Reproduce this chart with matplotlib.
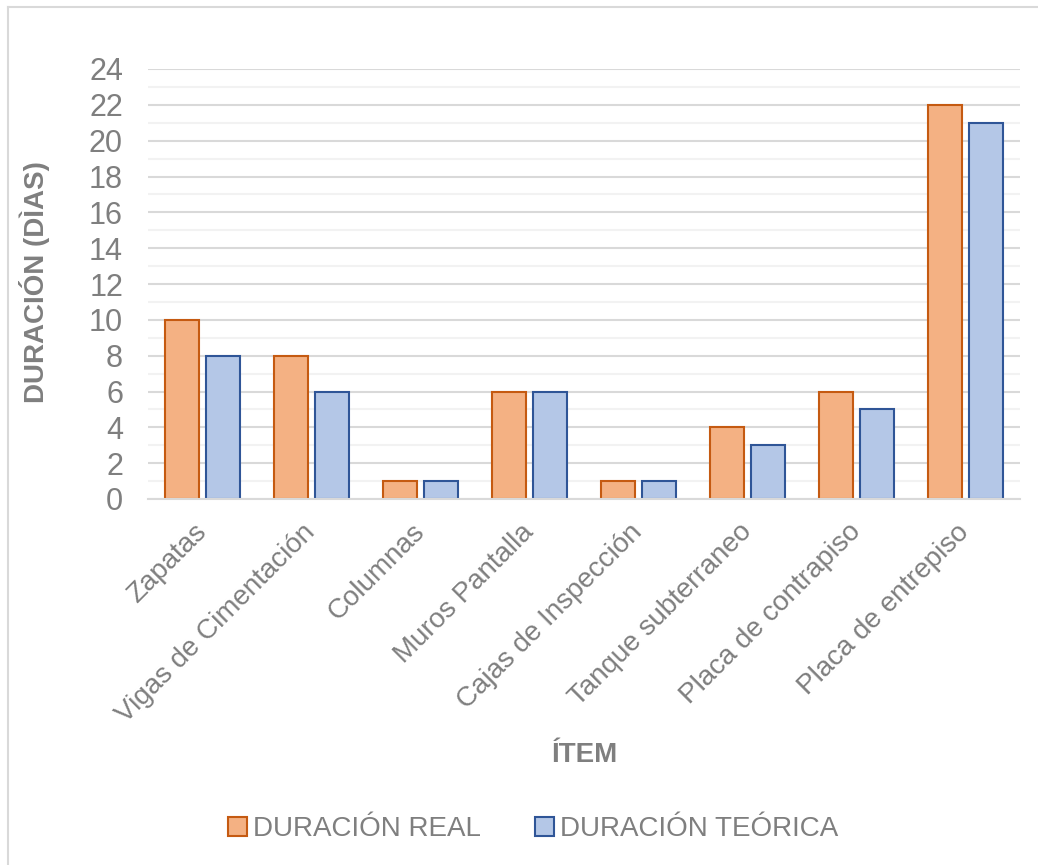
import matplotlib
import numpy as np

matplotlib.use("Agg")
import matplotlib.pyplot as plt  # noqa: E402
from matplotlib.lines import Line2D  # noqa: E402
from matplotlib.patches import Patch  # noqa: E402

plt.rcParams["font.family"] = ["Liberation Sans", "DejaVu Sans"]

items = ["Zapatas", "Vigas de Cimentación", "Columnas", "Muros Pantalla",
         "Cajas de Inspección", "Tanque subterraneo", "Placa de contrapiso", "Placa de entrepiso"]
dur_real = [10, 8, 1, 6, 1, 4, 6, 22]
dur_teorica = [8, 6, 1, 6, 1, 3, 5, 21]

GRAY = "#7F7F7F"
REAL_FILL, REAL_EDGE = "#F4B183", "#C55A11"
TEO_FILL, TEO_EDGE = "#B4C7E7", "#2F5597"

W, H = 1038, 865
fig = plt.figure(figsize=(W / 100, H / 100), dpi=100)
ax = fig.add_axes([148 / W, 1 - 499 / H, (1020 - 148) / W, (499 - 69) / H])

x = np.arange(len(items))
bw, off = 0.31, 0.19
ax.bar(x - off, dur_real, bw, color=REAL_FILL, edgecolor=REAL_EDGE, linewidth=1.5, zorder=3)
ax.bar(x + off, dur_teorica, bw, color=TEO_FILL, edgecolor=TEO_EDGE, linewidth=1.5, zorder=3)

ax.set_xlim(-0.5, len(items) - 0.5)
ax.set_ylim(0, 24)
ax.set_yticks(np.arange(0, 25, 2))
ax.set_yticks(np.arange(1, 24, 2), minor=True)
ax.grid(True, which="major", axis="y", color="#D9D9D9", lw=1.5, zorder=0)
ax.grid(True, which="minor", axis="y", color="#F2F2F2", lw=1.5, zorder=0)
for s in ["top", "right", "left"]:
    ax.spines[s].set_visible(False)
ax.spines["bottom"].set_color("#D9D9D9")
ax.spines["bottom"].set_linewidth(1.5)
ax.spines["bottom"].set_zorder(4)

ax.tick_params(axis="y", which="both", length=0, pad=18, labelsize=22, labelcolor=GRAY)
ax.tick_params(axis="x", length=0, pad=21, labelsize=20, labelcolor=GRAY)
ax.set_xticks(x)
ax.set_xticklabels(items, rotation=45, ha="right", va="center", rotation_mode="anchor")

fig.text(35 / W, 1 - 282 / H, "DURACIÓN (DÌAS)", rotation=90, fontsize=20, fontweight="bold",
         color=GRAY, ha="center", va="center")
fig.text(585 / W, 1 - 755 / H, "ÍTEM", fontsize=20, fontweight="bold", color=GRAY,
         ha="center", va="center")

handles = [Patch(facecolor=REAL_FILL, edgecolor=REAL_EDGE, linewidth=1.5),
           Patch(facecolor=TEO_FILL, edgecolor=TEO_EDGE, linewidth=1.5)]
leg = fig.legend(handles, ["DURACIÓN REAL", "DURACIÓN TEÓRICA"], ncol=2, frameon=False,
                 loc="center", bbox_to_anchor=(533 / W, 1 - 829 / H), fontsize=20,
                 handlelength=0.7, handleheight=0.7, handletextpad=0.2, columnspacing=1.95)
for t in leg.get_texts():
    t.set_color(GRAY)

# outer chart border (left and top edges visible)
fig.add_artist(Line2D([8 / W, 8 / W], [0, 1 - 7 / H], transform=fig.transFigure, color="#D9D9D9", lw=1.5))
fig.add_artist(Line2D([8 / W, 1], [1 - 7 / H, 1 - 7 / H], transform=fig.transFigure, color="#D9D9D9", lw=1.5))

fig.savefig("out.png", dpi=100)
